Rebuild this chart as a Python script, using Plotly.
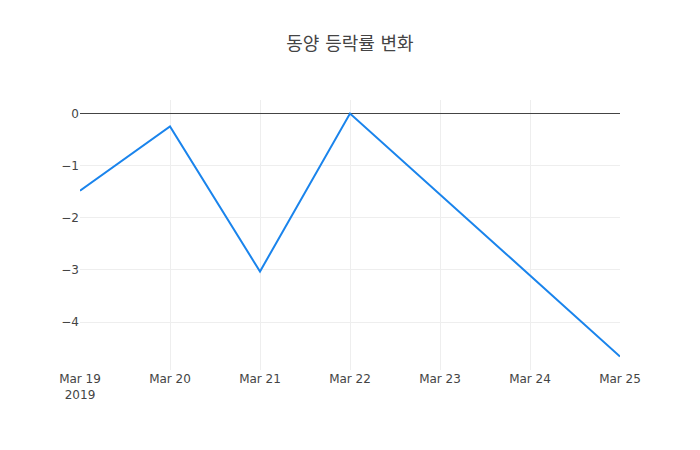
import plotly.graph_objects as go

dates = ["2019-03-19", "2019-03-20", "2019-03-21", "2019-03-22", "2019-03-25"]
values = [-1.48, -0.25, -3.03, 0.0, -4.66]
title = "동양 등락률 변화"

fig = go.Figure(go.Scatter(x=dates, y=values, mode="lines",
                           line=dict(color="#1a84ec", width=2)))
fig.update_layout(
    template="none",
    width=700, height=450,
    title=dict(text=title, x=0.5, xanchor="center",
               font=dict(family='"DejaVu Sans", "Noto Sans CJK KR", sans-serif', size=18)),
    font=dict(family='"DejaVu Sans", verdana, sans-serif', color="#444"),
    xaxis=dict(showgrid=True, gridcolor="#eee", zeroline=False),
    yaxis=dict(showgrid=True, gridcolor="#eee", zeroline=True, zerolinecolor="#444", zerolinewidth=1),
    showlegend=False,
)
fig.write_html("out.html")
